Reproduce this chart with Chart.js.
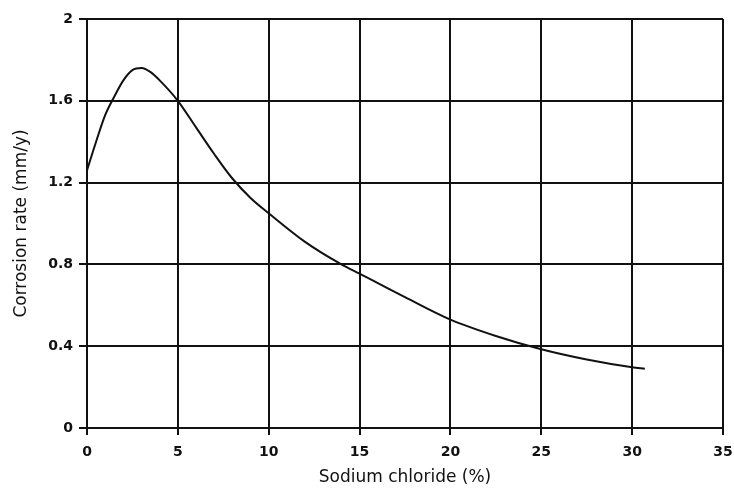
<!DOCTYPE html>
<html>
<head>
<meta charset="utf-8">
<script src="https://cdn.jsdelivr.net/npm/chart.js@4/dist/chart.umd.min.js"></script>
<style>
  html, body { margin: 0; padding: 0; background: #fff; }
  #chart { display: block; }
</style>
</head>
<body>
<canvas id="chart" width="734" height="490"></canvas>
<script>
// NaCl concentration (%) vs corrosion rate (mm/y)
const naclPercent = [0, 0.5, 1, 1.5, 2, 2.5, 3, 3.5, 4, 5, 6, 7, 8, 9, 10, 12, 14, 15, 17.5, 20, 22.5, 25, 27.5, 30, 30.7];
const corrosionRate = [1.26, 1.40, 1.53, 1.62, 1.70, 1.75, 1.76, 1.74, 1.70, 1.60, 1.47, 1.34, 1.22, 1.125, 1.05, 0.91, 0.80, 0.755, 0.64, 0.53, 0.45, 0.385, 0.335, 0.297, 0.29];
const xTicks = [0, 5, 10, 15, 20, 25, 30, 35];
const yTicks = [0, 0.4, 0.8, 1.2, 1.6, 2];

const points = naclPercent.map((x, i) => ({ x: x, y: corrosionRate[i] }));

const tickFont = { family: "'DejaVu Sans', Verdana, sans-serif", size: 14, weight: 'bold' };
const titleFont = { family: "'DejaVu Sans', Verdana, sans-serif", size: 17, weight: 'normal' };

const corrosion_chart = new Chart(document.getElementById('chart'), {
  type: 'scatter',
  data: {
    datasets: [{
      data: points,
      showLine: true,
      borderColor: '#111',
      borderWidth: 2,
      pointRadius: 0,
      cubicInterpolationMode: 'monotone',
      fill: false
    }]
  },
  options: {
    responsive: false,
    animation: false,
    layout: { padding: { top: 19, right: 11, bottom: 0, left: 8 } },
    plugins: {
      legend: { display: false },
      tooltip: { enabled: false }
    },
    scales: {
      x: {
        type: 'linear',
        min: 0,
        max: 35,
        afterBuildTicks: axis => { axis.ticks = xTicks.map(v => ({ value: v })); },
        ticks: { color: '#111', font: tickFont, padding: 9 },
        grid: { color: '#111', lineWidth: 2, tickLength: 7, tickColor: '#111' },
        border: { color: '#111', width: 2 },
        title: { display: true, text: 'Sodium chloride (%)', color: '#111', font: titleFont, padding: { top: 0, bottom: 2 } },
        afterFit: axis => {
          axis.height = 62;
          // let the "35" label hang into the right margin
          axis.paddingLeft = 0;
          axis.paddingRight = 0;
        }
      },
      y: {
        min: 0,
        max: 2,
        afterBuildTicks: axis => { axis.ticks = yTicks.map(v => ({ value: v })); },
        ticks: { color: '#111', font: tickFont, padding: 6, callback: v => String(+v.toFixed(1)) },
        grid: { color: '#111', lineWidth: 2, tickLength: 8, tickColor: '#111' },
        border: { color: '#111', width: 2 },
        title: { display: true, text: 'Corrosion rate (mm/y)', color: '#111', font: titleFont, padding: { top: 3, bottom: 0 } },
        afterFit: axis => { axis.width = 79; }
      }
    }
  }
});
</script>
</body>
</html>
